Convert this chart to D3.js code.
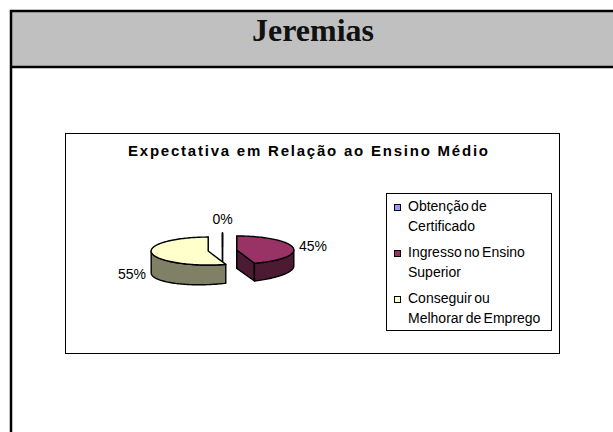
<!DOCTYPE html>
<html>
<head>
<meta charset="utf-8">
<script src="https://cdn.jsdelivr.net/npm/d3@7"></script>
<style>
  body { margin: 0; background: #fff; }
  text { font-family: "Liberation Sans", Arial, sans-serif; }
</style>
</head>
<body>
<svg id="chart" width="613" height="432"></svg>
<script>
// ---- data ----
const pageTitle = "Jeremias";
const chartTitle = "Expectativa em Relação ao Ensino Médio";
const categories = ["Obtenção de Certificado", "Ingresso no Ensino Superior", "Conseguir ou Melhorar de Emprego"];
const legendLines = [["Obtenção de", "Certificado"], ["Ingresso no Ensino", "Superior"], ["Conseguir ou", "Melhorar de Emprego"]];
const values = [0, 45, 55];
const topColors = ["#9999FF", "#993366", "#FFFFCC"];
const sideColors = ["#4D4D80", "#4D1A33", "#808066"];

const W = 613, H = 432;
const svg = d3.select("#chart");

// ---- page frame with grey header ----
svg.append("rect").attr("width", W).attr("height", H).attr("fill", "#fff");
svg.append("rect").attr("x", 11).attr("y", 11).attr("width", W).attr("height", 56).attr("fill", "#C0C0C0");
svg.append("path").attr("d", `M11,${H + 10}V11H${W + 10}`)
  .attr("fill", "none").attr("stroke", "#000").attr("stroke-width", 2.5);
svg.append("line").attr("x1", 11).attr("x2", W + 10).attr("y1", 67).attr("y2", 67)
  .attr("stroke", "#000").attr("stroke-width", 2.5);
svg.append("text").attr("x", 313).attr("y", 41).attr("text-anchor", "middle")
  .style("font-family", "'Liberation Serif', 'Times New Roman', serif")
  .style("font-weight", "bold").style("font-size", "32px").attr("fill", "#111")
  .text(pageTitle);

// ---- chart area ----
const box = { x: 65.5, y: 133.5, w: 494, h: 220 };
svg.append("rect").attr("x", box.x).attr("y", box.y).attr("width", box.w).attr("height", box.h)
  .attr("fill", "#fff").attr("stroke", "#000").attr("stroke-width", 1);

svg.append("text").attr("x", 308).attr("y", 156).attr("text-anchor", "middle")
  .attr("textLength", 360).attr("lengthAdjust", "spacing")
  .style("font-weight", "bold").style("font-size", "15px").attr("fill", "#000")
  .text(chartTitle);

// ---- 3D exploded pie ----
const pie = d3.pie().sort(null).value(d => d).startAngle(0).endAngle(2 * Math.PI);
const arcs = pie(values);

const cx = 222.5, cy = 250.5;   // pie centre (top face)
const rx = 57, ry = 14;          // ellipse radii of the top face
const depth = 19;                // slice thickness at the pie centre
const persp = 0.12;              // walls look deeper on the left, shallower on the right
const explode = 14.5;            // horizontal explosion distance

function point(c, a, h) {
  const x = c[0] + rx * Math.sin(a);
  const k = h ? h * (1 - persp * (x - cx) / rx) : 0;
  return [x, c[1] - ry * Math.cos(a) + k];
}
function drop(p) {
  return [p[0], p[1] + depth * (1 - persp * (p[0] - cx) / rx)];
}
function rimPoints(c, a0, a1, h) {
  const n = Math.max(2, Math.ceil(Math.abs(a1 - a0) / 0.03));
  return d3.range(n + 1).map(i => point(c, a0 + (a1 - a0) * i / n, h));
}
const line = d3.line();

const slices = arcs.map((d, i) => {
  const mid = (d.startAngle + d.endAngle) / 2;
  const c = [cx + explode * Math.sin(mid), cy - explode * (ry / rx) * Math.cos(mid)];
  return { d, i, mid, c };
}).sort((a, b) => Math.cos(b.mid) - Math.cos(a.mid));  // back slices first

const gPie = svg.append("g")
  .attr("stroke", "#000").attr("stroke-width", 1.4).attr("stroke-linejoin", "round");

slices.forEach(s => {
  const { d, i, c } = s;
  const a0 = d.startAngle, a1 = d.endAngle;
  const g = gPie.append("g");

  // radial cut walls (only the ones turned towards the viewer)
  const walls = [];
  if (Math.sin(a0) <= 1e-9) walls.push(a0);
  if (Math.sin(a1) >= -1e-9) walls.push(a1);
  walls.forEach(a => {
    const r = point(c, a, 0);
    const poly = [[c[0], c[1]], r, drop(r), drop([c[0], c[1]])];
    g.append("path").attr("d", line(poly) + "Z").attr("fill", sideColors[i]);
  });

  // outer curved wall, front half only
  const s0 = Math.max(a0, Math.PI / 2), s1 = Math.min(a1, 3 * Math.PI / 2);
  if (s1 > s0) {
    const top = rimPoints(c, s0, s1, 0);
    const bottom = top.slice().reverse().map(drop);
    g.append("path").attr("d", line(top.concat(bottom)) + "Z").attr("fill", sideColors[i]);
  }

  // top face
  const face = [[c[0], c[1]]].concat(rimPoints(c, a0, a1, 0));
  g.append("path").attr("d", line(face) + "Z").attr("fill", topColors[i]);
});

// percentage labels
const total = d3.sum(values);
slices.forEach(s => {
  const sn = Math.sin(s.mid), cs = Math.cos(s.mid);
  const x = s.c[0] + (rx + 6) * sn;
  const y = s.c[1] - (ry + 14) * cs + depth * (1 - sn) / 2 * Math.abs(sn);
  const anchor = sn > 0.3 ? "start" : sn < -0.3 ? "end" : "middle";
  svg.append("text").attr("x", x).attr("y", y + 5).attr("text-anchor", anchor)
    .style("font-size", "14px").attr("fill", "#000")
    .text(Math.round(s.d.value / total * 100) + "%");
});

// ---- legend ----
const leg = { x: 386.5, y: 193.5, w: 165, h: 137 };
svg.append("rect").attr("x", leg.x).attr("y", leg.y).attr("width", leg.w).attr("height", leg.h)
  .attr("fill", "#fff").attr("stroke", "#000").attr("stroke-width", 1);

const rowY = d3.scalePoint().domain(categories).range([211, 303]);
categories.forEach((cat, i) => {
  const y = rowY(cat);
  svg.append("rect").attr("x", 394.5).attr("y", y - 6.5).attr("width", 6).attr("height", 6)
    .attr("fill", topColors[i]).attr("stroke", "#000").attr("stroke-width", 1);
  legendLines[i].forEach((t, k) => {
    svg.append("text").attr("x", 408).attr("y", y + k * 20)
      .style("font-size", "14px").style("word-spacing", "-1.5px").attr("fill", "#000")
      .text(t);
  });
});
</script>
</body>
</html>
